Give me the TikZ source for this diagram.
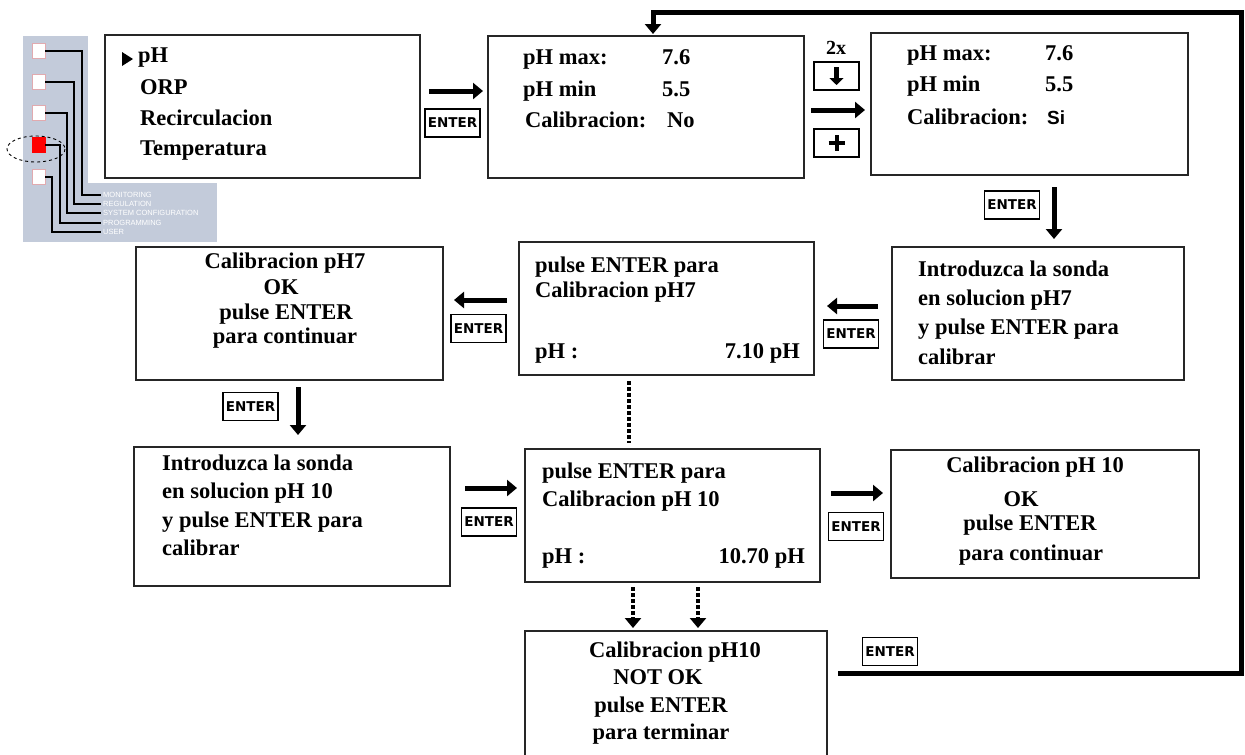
\documentclass[tikz,border=0pt]{standalone}
\usepackage{fontspec}
\setmainfont{Liberation Serif}
\setsansfont{Liberation Sans}
\newfontfamily\keyfont{DejaVu Sans}
\newfontfamily\sifont{Liberation Sans}
\usetikzlibrary{arrows.meta,calc}
\definecolor{panel}{RGB}{195,203,218}
\definecolor{sqedge}{RGB}{225,170,175}
\begin{document}
\begin{tikzpicture}[x=1pt,y=-1pt,
 box/.style={draw=black!85,line width=2pt,anchor=north west,inner sep=0pt},
 txt/.style={anchor=base west,inner sep=0pt,font=\fontsize{22.5}{24}\selectfont\bfseries},
 ctxt/.style={txt,anchor=base},
 rtxt/.style={txt,anchor=base east},
 key/.style={draw,line width=1.5pt,minimum width=55pt,minimum height=28pt,inner sep=0pt,font=\keyfont\bfseries\fontsize{13.5}{13.5}\selectfont},
 smallkey/.style={draw,line width=1.5pt,minimum width=45pt,minimum height=28pt,inner sep=0pt},
 arr/.style={line width=5pt,-{Triangle[length=10pt,width=16pt]}},
 dsh/.style={line width=4pt,dash pattern=on 4pt off 2pt},
 wire/.style={line width=1.3pt},
 sq/.style={draw=sqedge,fill=white,line width=0.8pt,minimum width=13pt,minimum height=15pt,inner sep=0pt},
 tiny/.style={anchor=west,inner sep=0pt,text=white,font=\sffamily\fontsize{7.5}{7.5}\selectfont}
]
\useasboundingbox (0,0) rectangle (1245,755);
\fill[white] (0,0) rectangle (1245,755);
\clip (0,0) rectangle (1245,755);

% device panel
\fill[panel] (23,36) rectangle (88,242);
\fill[panel] (23,183) rectangle (217,242);
\node[sq] (s1) at (38.5,51) {};
\node[sq] (s2) at (38.5,82) {};
\node[sq] (s3) at (38.5,113) {};
\node[sq,fill=red,draw=red] (s4) at (38.5,145) {};
\node[sq] (s5) at (38.5,177) {};
\coordinate (w1) at (101,195);
\coordinate (w2) at (101,204);
\coordinate (w3) at (101,213);
\coordinate (w4) at (101,223);
\coordinate (w5) at (101,232);
\draw[wire] (s1.east) -| ($(w1)+(-19,0)$) -- (w1);
\draw[wire] (s2.east) -| ($(w2)+(-27,0)$) -- (w2);
\draw[wire] (s3.east) -| ($(w3)+(-34,0)$) -- (w3);
\draw[wire] (s4.east) -| ($(w4)+(-41,0)$) -- (w4);
\draw[wire] (s5.east) -| ($(w5)+(-49,0)$) -- (w5);
\node[tiny] (l1) at (103,195) {MONITORING};
\node[tiny] (l2) at (103,204) {REGULATION};
\node[tiny] (l3) at (103,213) {SYSTEM CONFIGURATION};
\node[tiny] (l4) at (103,223) {PROGRAMMING};
\node[tiny] (l5) at (103,232) {USER};
\draw[dashed,line width=0.9pt] (36,149) ellipse [x radius=29, y radius=13];

% boxes
\node[box,minimum width=315pt,minimum height=143pt] (b1) at (104,34) {};
\node[box,minimum width=316pt,minimum height=142pt] (b2) at (487,35) {};
\node[box,minimum width=317pt,minimum height=142pt] (b3) at (870,32) {};
\node[box,minimum width=292pt,minimum height=133pt] (b4) at (891,246) {};
\node[box,minimum width=295pt,minimum height=133pt] (b5) at (518,241) {};
\node[box,minimum width=307pt,minimum height=133pt] (b6) at (135,246) {};
\node[box,minimum width=316pt,minimum height=139pt] (b7) at (133,446) {};
\node[box,minimum width=295pt,minimum height=133pt] (b8) at (524,448) {};
\node[box,minimum width=308pt,minimum height=128pt] (b9) at (890,449) {};
\node[box,minimum width=302pt,minimum height=140pt] (b10) at (524,630) {};

% box 1 text
\fill (122,52) -- (133,59) -- (122,66) -- cycle;
\node[txt] (t1a) at (138,62) {pH};
\node[txt] (t1b) at (140,94) {ORP};
\node[txt] (t1c) at (140,125) {Recirculacion};
\node[txt] (t1d) at (140,155) {Temperatura};

% box 2 text
\node[txt] (t2a) at (523,64) {pH max:};
\node[txt] (t2b) at (662,64) {7.6};
\node[txt] (t2c) at (523,96) {pH min};
\node[txt] (t2d) at (662,96) {5.5};
\node[txt] (t2e) at (525,127) {Calibracion:};
\node[txt] (t2f) at (667,127) {No};

% box 3 text
\node[txt] (t3a) at (907,60) {pH max:};
\node[txt] (t3b) at (1045,60) {7.6};
\node[txt] (t3c) at (907,91) {pH min};
\node[txt] (t3d) at (1045,91) {5.5};
\node[txt] (t3e) at (907,124) {Calibracion:};
\node[txt,font=\sifont\bfseries\fontsize{19}{20}\selectfont] (t3f) at (1047,124) {Si};

% box 4 text
\node[txt] (t4a) at (918,276) {Introduzca la sonda};
\node[txt] (t4b) at (918,305) {en solucion pH7};
\node[txt] (t4c) at (918,334) {y pulse ENTER para};
\node[txt] (t4d) at (918,364) {calibrar};

% box 5 text
\node[txt] (t5a) at (535,272) {pulse ENTER para};
\node[txt] (t5b) at (535,297) {Calibracion pH7};
\node[txt] (t5c) at (535,358) {pH :};
\node[rtxt] (t5d) at (800,358) {7.10 pH};

% box 6 text
\node[ctxt] (t6a) at (285,268) {Calibracion pH7};
\node[ctxt] (t6b) at (281,294) {OK};
\node[ctxt] (t6c) at (286,319) {pulse ENTER};
\node[ctxt] (t6d) at (285,343) {para continuar};

% box 7 text
\node[txt] (t7a) at (162,470) {Introduzca la sonda};
\node[txt] (t7b) at (162,498) {en solucion pH 10};
\node[txt] (t7c) at (162,527) {y pulse ENTER para};
\node[txt] (t7d) at (162,555) {calibrar};

% box 8 text
\node[txt] (t8a) at (542,478) {pulse ENTER para};
\node[txt] (t8b) at (542,506) {Calibracion pH 10};
\node[txt] (t8c) at (542,563) {pH :};
\node[rtxt] (t8d) at (805,563) {10.70 pH};

% box 9 text
\node[ctxt] (t9a) at (1035,472) {Calibracion pH 10};
\node[ctxt] (t9b) at (1021,506) {OK};
\node[ctxt] (t9c) at (1030,530) {pulse ENTER};
\node[ctxt] (t9d) at (1031,560) {para continuar};

% box 10 text
\node[ctxt] (t10a) at (675,657) {Calibracion pH10};
\node[ctxt] (t10b) at (658,684) {NOT OK};
\node[ctxt] (t10c) at (661,712) {pulse ENTER};
\node[ctxt] (t10d) at (661,739) {para terminar};

% keys
\node[key] (e1) at (452.5,123) {ENTER};
\node[key] (e3) at (1012,205) {ENTER};
\node[key] (e4) at (851,334) {ENTER};
\node[key] (e5) at (478.5,328.5) {ENTER};
\node[key] (e6) at (250.5,406.5) {ENTER};
\node[key] (e7) at (489,522) {ENTER};
\node[key] (e8) at (856,526.5) {ENTER};
\node[key] (e9) at (890,651.5) {ENTER};
\node[smallkey] (k1) at (836.5,76) {};
\node[smallkey] (k2) at (836.5,143) {};
\node[txt,anchor=center,font=\fontsize{20}{20}\selectfont\bfseries] (twox) at (836,48) {2x};
\draw[line width=4.5pt,-{Triangle[length=7pt,width=14pt]}] ($(k1.center)+(0,-9)$) -- ($(k1.center)+(0,9)$);
\draw[line width=4pt] ($(k2.center)+(-8,0)$) -- ($(k2.center)+(8,0)$) ($(k2.center)+(0,-8)$) -- ($(k2.center)+(0,8)$);

% connectors
\draw[arr] ($(b1.east)+(8,-15.5)$) -- ($(b2.west)+(-4,-16)$);
\draw[arr] ($(b2.east)+(6,3)$) -- ($(b3.west)+(-5,6)$);
\draw[arr] ($(b3.south)+(24.5,11)$) -- ($(b4.north)+(16,-7)$);
\draw[arr] ($(b4.west)+(-13,-7.5)$) -- ($(b5.east)+(12,-2.5)$);
\draw[arr] ($(b5.west)+(-11,-8.5)$) -- ($(b6.east)+(10,-13.5)$);
\draw[arr] ($(b6.south)+(8.5,6)$) -- ($(b7.north)+(6,-11)$);
\draw[arr] ($(b7.east)+(14,-28.5)$) -- ($(b8.west)+(-7,-27.5)$);
\draw[arr] ($(b8.east)+(10,-22.5)$) -- ($(b9.west)+(-7,-21)$);
\draw[dsh] ($(b5.south)+(-37.5,5)$) -- ($(b8.north)+(-43.5,-5)$);
\draw[dsh,-{Triangle[length=10pt,width=16pt]}] ($(b8.south)+(-39.5,4)$) -- ($(b10.north)+(-43,-2)$);
\draw[dsh,-{Triangle[length=10pt,width=16pt]}] ($(b8.south)+(25.5,4)$) -- ($(b10.north)+(22,-2)$);
\coordinate (fb0) at (838,673);
\coordinate (fbR) at (1241,12);
\draw[arr,line join=miter] (fb0) -| (fbR) -| ($(b2.north)+(7,-1)$);
\end{tikzpicture}
\end{document}
